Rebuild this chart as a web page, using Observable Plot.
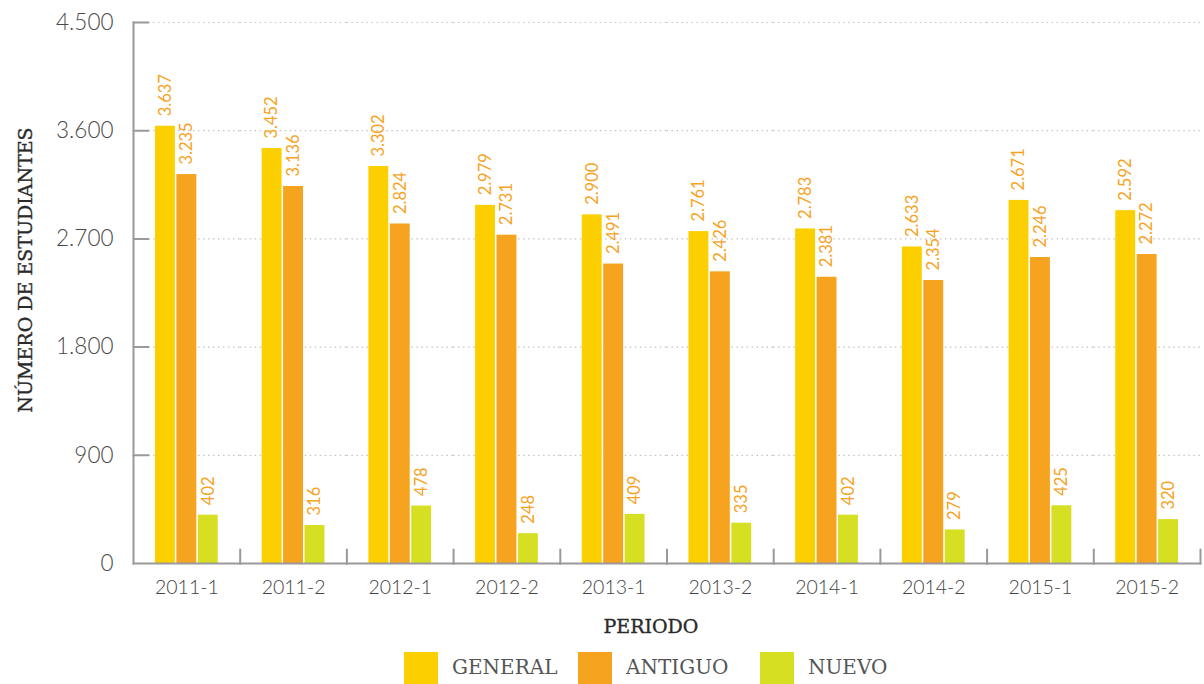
<!DOCTYPE html>
<html>
<head>
<meta charset="utf-8">
<script src="https://cdn.jsdelivr.net/npm/d3@7"></script>
<script src="https://cdn.jsdelivr.net/npm/@observablehq/plot@0.6"></script>
<style>
  html, body { margin: 0; padding: 0; background: #fff; }
  #chart svg { display: block; }
  .xtitle { position: relative; height: 35px; }
  .xtitle span { position: absolute; left: 651px; top: 5px; transform: translateX(-50%); font-family: "DejaVu Serif", serif; font-size: 19px; color: #2a2a2a; -webkit-text-stroke: 0.35px #2a2a2a; white-space: nowrap; line-height: 22px; }
  .legend { position: relative; height: 39px; }
  .legend .item { position: absolute; top: 7px; display: flex; align-items: flex-start; }
  .legend .sw { width: 34px; height: 34px; }
  .legend .lb { font-family: "DejaVu Serif", serif; font-size: 20px; color: #555; margin-left: 14px; margin-top: 3px; font-weight: 300; white-space: nowrap; }
</style>
</head>
<body>
<div id="chart"></div>
<script>
const periods = ["2011-1","2011-2","2012-1","2012-2","2013-1","2013-2","2014-1","2014-2","2015-1","2015-2"];
const seriesNames = ["GENERAL","ANTIGUO","NUEVO"];
const seriesColors = ["#FCD000","#F6A31F","#D7DF23"];
const general = [3637,3452,3302,2979,2900,2761,2783,2633,3020,2935];
const antiguo = [3235,3136,2824,2731,2491,2426,2381,2354,2545,2570];
const nuevo = [402,316,478,248,409,335,402,279,480,365];
const generalLabels = ["3.637","3.452","3.302","2.979","2.900","2.761","2.783","2.633","2.671","2.592"];
const antiguoLabels = ["3.235","3.136","2.824","2.731","2.491","2.426","2.381","2.354","2.246","2.272"];
const nuevoLabels = ["402","316","478","248","409","335","402","279","425","320"];
const yTicks = [0,900,1800,2700,3600,4500];
const yTitle = "NÚMERO DE ESTUDIANTES";
const xTitle = "PERIODO";
const legendLeft = [404, 578, 760];

const valuesBySeries = [general, antiguo, nuevo];
const labelsBySeries = [generalLabels, antiguoLabels, nuevoLabels];
const rows = [];
periods.forEach((p, i) => {
  seriesNames.forEach((s, j) => {
    rows.push({period: p, series: s, value: valuesBySeries[j][i], label: labelsBySeries[j][i]});
  });
});

const esFormat = d3.formatLocale({decimal: ",", thousands: ".", grouping: [3], currency: ["", ""]}).format(",d");
const lineShape = {draw(context, l) { context.moveTo(0, 0); context.lineTo(0, -l); }};
const axisGray = "#9a9a9a";

const plot = Plot.plot({
  width: 1204,
  height: 610,
  marginLeft: 133,
  marginRight: 4,
  marginTop: 22,
  marginBottom: 47,
  style: {fontFamily: "Lato, sans-serif", color: "#444"},
  fx: {domain: periods, padding: 0, round: false},
  x: {domain: seriesNames, paddingInner: 0, paddingOuter: 0.99, axis: null, round: false},
  y: {domain: [0, 4500], ticks: yTicks},
  color: {domain: seriesNames, range: seriesColors},
  marks: [
    Plot.gridY(yTicks.filter(d => d > 0), {stroke: "#c4c4c4", strokeOpacity: 1, strokeWidth: 1.2, strokeDasharray: "1.5,3.5"}),
    Plot.barY(rows, {fx: "period", x: "series", y: "value", fill: "series", insetLeft: 0.75, insetRight: 0.75}),
    Plot.text(rows, {fx: "period", x: "series", y: "value", text: "label", rotate: -90, textAnchor: "start", dy: -10, fill: "#F6A31F", fontSize: 16.5}),
    Plot.vector(yTicks.filter(d => d > 0), {y: d => d, frameAnchor: "left", facetAnchor: "left", rotate: 90, length: 15, anchor: "start", shape: lineShape, stroke: axisGray, strokeWidth: 2}),
    Plot.vector([0], {y: d => d, frameAnchor: "right", length: 14, anchor: "start", shape: lineShape, stroke: axisGray, strokeWidth: 2}),
    Plot.frame({anchor: "left", facetAnchor: "left", stroke: axisGray, strokeWidth: 2}),
    Plot.frame({anchor: "bottom", stroke: axisGray, strokeWidth: 2}),
    Plot.axisY(yTicks, {tickSize: 0, tickPadding: 20, tickFormat: esFormat, fontSize: 22.5, fontWeight: 300, fill: "#4a4a4a", label: null}),
    Plot.text([yTitle], {frameAnchor: "left", facetAnchor: "left", rotate: -90, textAnchor: "middle", dx: -108, dy: -23, text: d => d,
      fontFamily: "DejaVu Serif, serif", fontSize: 19, fill: "#2a2a2a", stroke: "#2a2a2a", strokeWidth: 0.35}),
    Plot.axisFx({anchor: "bottom", tickSize: 0, tickPadding: 17, fontSize: 19.5, fontWeight: 300, fill: "#444", label: null})
  ]
});
document.getElementById("chart").appendChild(plot);

const xt = document.createElement("div");
xt.className = "xtitle";
const xts = document.createElement("span");
xts.textContent = xTitle;
xt.appendChild(xts);
document.getElementById("chart").appendChild(xt);

const legend = document.createElement("div");
legend.className = "legend";
seriesNames.forEach((s, i) => {
  const item = document.createElement("div");
  item.className = "item";
  item.style.left = legendLeft[i] + "px";
  const sw = document.createElement("div");
  sw.className = "sw";
  sw.style.background = seriesColors[i];
  const lb = document.createElement("div");
  lb.className = "lb";
  lb.textContent = s;
  item.appendChild(sw);
  item.appendChild(lb);
  legend.appendChild(item);
});
document.getElementById("chart").appendChild(legend);
</script>
</body>
</html>
